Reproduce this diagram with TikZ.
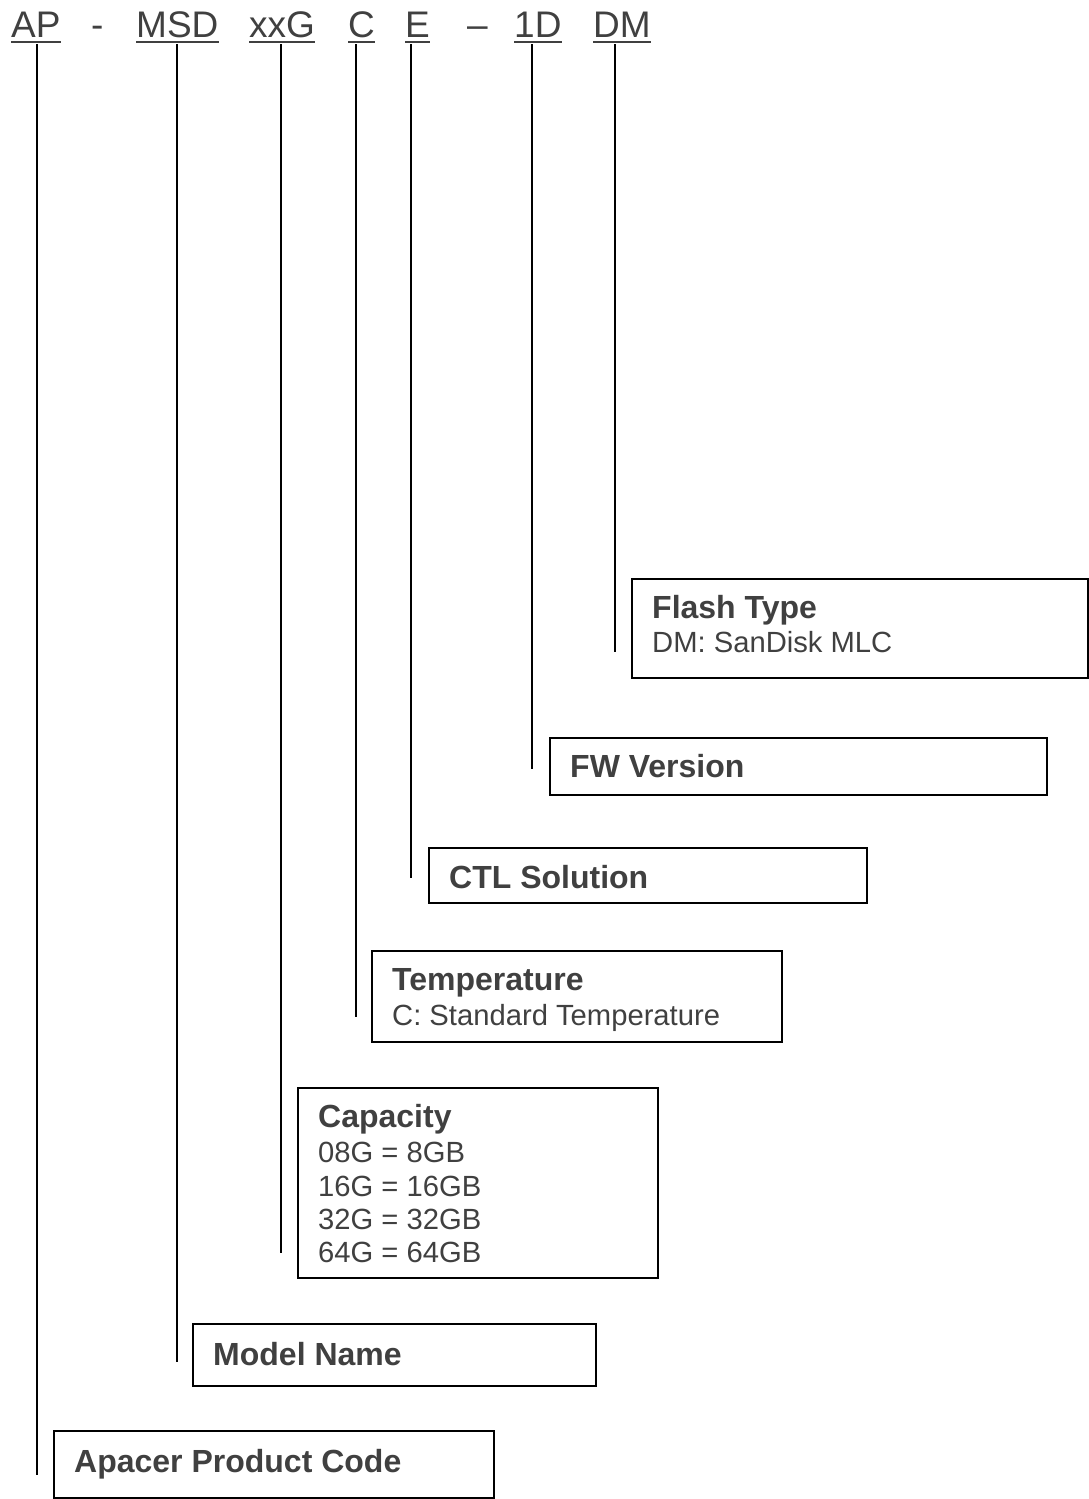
\documentclass[tikz,border=0pt]{standalone}
\usepackage{fontspec}
\setmainfont{Liberation Sans}
\definecolor{txt}{HTML}{404040}
\begin{document}
\begin{tikzpicture}[x=1pt,y=-1pt,
  hdr/.style={anchor=base west, inner sep=0pt, font=\fontsize{37}{44}\selectfont, text=txt},
  ul/.style={line width=2.5pt, draw=txt},
  conn/.style={line width=1.5pt, draw=black},
  infobox/.style={draw=black, line width=1.5pt, anchor=north west, inner sep=0pt},
  ttl/.style={anchor=base west, inner sep=0pt, font=\fontsize{32}{34}\selectfont\bfseries, text=txt},
  body/.style={anchor=base west, inner sep=0pt, font=\fontsize{29.2}{33.5}\selectfont, text=txt}]
\useasboundingbox (0,0) rectangle (1088,1499);

% header code
\node[hdr] (hAP)  at (11,37)  {AP};
\node[hdr] (hd1)  at (91,37)  {-};
\node[hdr] (hMSD) at (136,37) {MSD};
\node[hdr] (hxxG) at (249,37) {xxG};
\node[hdr] (hC)   at (348,37) {C};
\node[hdr] (hE)   at (405,37) {E};
\node[hdr] (hd2)  at (467,37) {–};
\node[hdr] (h1D)  at (514,37) {1D};
\node[hdr] (hDM)  at (593,37) {DM};
\foreach \n in {hAP,hMSD,hxxG,hC,hE,h1D,hDM}
  \draw[ul] ([yshift=-5pt]\n.base west) -- ([yshift=-5pt]\n.base east);

% boxes
\node[infobox, minimum width=456, minimum height=99] (bFlash) at (631,578) {};
\node[ttl] (tFlash) at (652,618) {Flash Type};
\node[body] (dFlash) at (652,652) {DM: SanDisk MLC};

\node[infobox, minimum width=497, minimum height=57] (bFW) at (549,737) {};
\node[ttl] (tFW) at (570,777) {FW Version};

\node[infobox, minimum width=438, minimum height=55] (bCTL) at (428,847) {};
\node[ttl] (tCTL) at (449,888) {CTL Solution};

\node[infobox, minimum width=410, minimum height=91] (bTemp) at (371,950) {};
\node[ttl] (tTemp) at (392,990) {Temperature};
\node[body] (dTemp) at (392,1025) {C: Standard Temperature};

\node[infobox, minimum width=360, minimum height=190] (bCap) at (297,1087) {};
\node[ttl] (tCap) at (318,1127) {Capacity};
\node[body] (dCap1) at (318,1162) {08G = 8GB};
\node[body] (dCap2) at (318,1196) {16G = 16GB};
\node[body] (dCap3) at (318,1229) {32G = 32GB};
\node[body] (dCap4) at (318,1262) {64G = 64GB};

\node[infobox, minimum width=403, minimum height=62] (bModel) at (192,1323) {};
\node[ttl] (tModel) at (213,1365) {Model Name};

\node[infobox, minimum width=440, minimum height=67] (bApacer) at (53,1430) {};
\node[ttl] (tApacer) at (74,1472) {Apacer Product Code};

% connector ends
\coordinate (eAP)  at (37,1475);
\coordinate (eMSD) at (177,1362);
\coordinate (exxG) at (281,1253);
\coordinate (eC)   at (356,1017);
\coordinate (eE)   at (411,878);
\coordinate (e1D)  at (532,769);
\coordinate (eDM)  at (615,652);

\draw[conn] (eAP  |- hAP.base)  ++(0,7) -- (eAP);
\draw[conn] (eMSD |- hMSD.base) ++(0,7) -- (eMSD);
\draw[conn] (exxG |- hxxG.base) ++(0,7) -- (exxG);
\draw[conn] (eC   |- hC.base)   ++(0,7) -- (eC);
\draw[conn] (eE   |- hE.base)   ++(0,7) -- (eE);
\draw[conn] (e1D  |- h1D.base)  ++(0,7) -- (e1D);
\draw[conn] (eDM  |- hDM.base)  ++(0,7) -- (eDM);
\end{tikzpicture}
\end{document}
